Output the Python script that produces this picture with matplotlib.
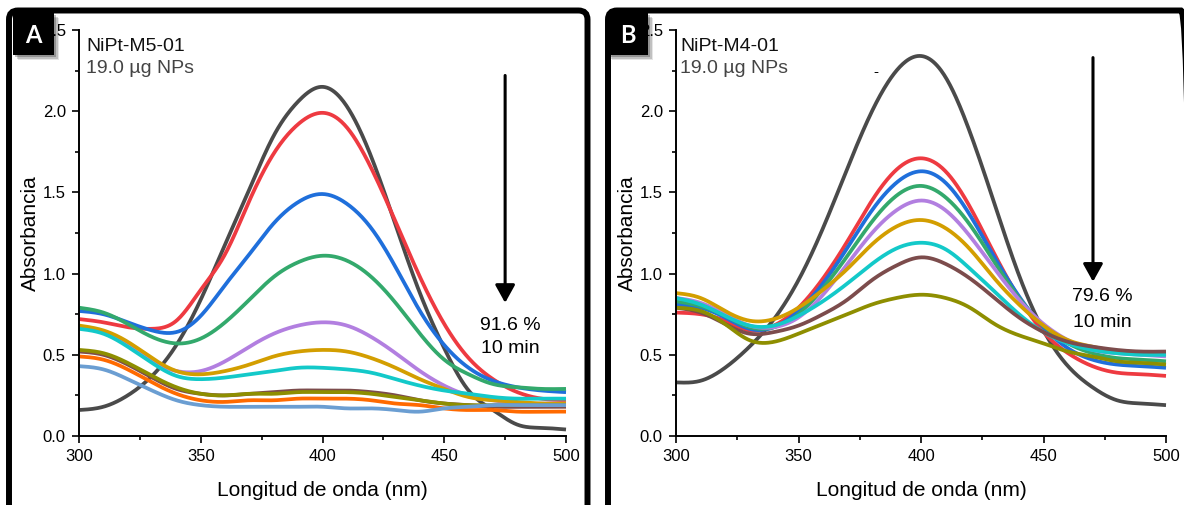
import numpy as np
import matplotlib
matplotlib.use("Agg")
import matplotlib.pyplot as plt
from matplotlib.patches import FancyBboxPatch, Rectangle
from matplotlib.transforms import IdentityTransform
from matplotlib.ticker import MultipleLocator, FormatStrFormatter

plt.rcParams['font.family'] = ['Liberation Sans', 'DejaVu Sans']

# Wavelength grid (nm) of the sampled absorbance values
wavelength = [300, 310, 320, 330, 340, 350, 360, 370, 380, 390, 400,
              410, 420, 430, 440, 450, 460, 470, 480, 490, 500]

# Panel A: NiPt-M5-01
gray_A   = [0.16, 0.18, 0.25, 0.37, 0.56, 0.84, 1.18, 1.52, 1.85, 2.06, 2.15, 2.03, 1.72, 1.30, 0.88, 0.54, 0.28, 0.16, 0.07, 0.05, 0.04]
red_A    = [0.72, 0.70, 0.67, 0.66, 0.71, 0.90, 1.12, 1.45, 1.74, 1.92, 1.99, 1.90, 1.65, 1.32, 0.98, 0.69, 0.48, 0.35, 0.27, 0.23, 0.22]
blue_A   = [0.77, 0.75, 0.70, 0.65, 0.64, 0.74, 0.93, 1.12, 1.31, 1.44, 1.49, 1.43, 1.28, 1.04, 0.77, 0.56, 0.42, 0.34, 0.30, 0.28, 0.27]
green_A  = [0.79, 0.76, 0.69, 0.61, 0.57, 0.60, 0.70, 0.84, 0.98, 1.07, 1.11, 1.08, 0.98, 0.82, 0.63, 0.47, 0.38, 0.32, 0.30, 0.29, 0.29]
purple_A = [0.67, 0.64, 0.56, 0.46, 0.40, 0.40, 0.46, 0.55, 0.63, 0.68, 0.70, 0.68, 0.61, 0.51, 0.40, 0.31, 0.25, 0.22, 0.20, 0.20, 0.20]
gold_A   = [0.68, 0.65, 0.58, 0.48, 0.40, 0.38, 0.40, 0.44, 0.49, 0.52, 0.53, 0.52, 0.48, 0.42, 0.35, 0.29, 0.24, 0.22, 0.21, 0.20, 0.20]
cyan_A   = [0.66, 0.63, 0.55, 0.45, 0.37, 0.35, 0.36, 0.38, 0.40, 0.42, 0.42, 0.41, 0.39, 0.35, 0.31, 0.28, 0.26, 0.24, 0.23, 0.23, 0.23]
brown_A  = [0.52, 0.50, 0.44, 0.36, 0.29, 0.26, 0.25, 0.26, 0.27, 0.28, 0.28, 0.28, 0.27, 0.25, 0.22, 0.20, 0.19, 0.18, 0.18, 0.18, 0.18]
olive_A  = [0.53, 0.51, 0.45, 0.37, 0.30, 0.26, 0.25, 0.26, 0.26, 0.27, 0.27, 0.27, 0.26, 0.24, 0.22, 0.20, 0.19, 0.19, 0.19, 0.19, 0.19]
orange_A = [0.49, 0.47, 0.41, 0.33, 0.26, 0.22, 0.21, 0.22, 0.22, 0.23, 0.23, 0.23, 0.22, 0.20, 0.19, 0.17, 0.16, 0.16, 0.15, 0.15, 0.15]
steel_A  = [0.43, 0.41, 0.35, 0.28, 0.22, 0.19, 0.18, 0.18, 0.18, 0.18, 0.18, 0.17, 0.17, 0.16, 0.15, 0.17, 0.18, 0.19, 0.19, 0.19, 0.19]

# Panel B: NiPt-M4-01
gray_B   = [0.33, 0.34, 0.42, 0.55, 0.72, 0.96, 1.28, 1.65, 2.00, 2.25, 2.34, 2.21, 1.87, 1.43, 0.99, 0.65, 0.43, 0.30, 0.22, 0.20, 0.19]
red_B    = [0.76, 0.75, 0.71, 0.65, 0.68, 0.79, 0.97, 1.20, 1.45, 1.64, 1.71, 1.63, 1.41, 1.12, 0.85, 0.64, 0.51, 0.43, 0.39, 0.38, 0.37]
blue_B   = [0.81, 0.79, 0.73, 0.66, 0.67, 0.77, 0.94, 1.16, 1.39, 1.56, 1.63, 1.56, 1.36, 1.10, 0.86, 0.67, 0.54, 0.47, 0.44, 0.43, 0.42]
green_B  = [0.83, 0.80, 0.74, 0.67, 0.67, 0.75, 0.91, 1.11, 1.32, 1.48, 1.54, 1.47, 1.30, 1.07, 0.85, 0.68, 0.57, 0.51, 0.48, 0.47, 0.46]
purple_B = [0.85, 0.82, 0.75, 0.68, 0.67, 0.73, 0.87, 1.06, 1.25, 1.39, 1.45, 1.39, 1.23, 1.03, 0.84, 0.69, 0.59, 0.53, 0.51, 0.50, 0.49]
gold_B   = [0.88, 0.85, 0.77, 0.71, 0.72, 0.79, 0.90, 1.03, 1.18, 1.29, 1.33, 1.28, 1.15, 0.97, 0.81, 0.68, 0.59, 0.55, 0.52, 0.51, 0.51]
cyan_B   = [0.85, 0.81, 0.74, 0.68, 0.68, 0.74, 0.83, 0.94, 1.06, 1.155, 1.19, 1.15, 1.03, 0.89, 0.75, 0.64, 0.57, 0.53, 0.51, 0.50, 0.50]
brown_B  = [0.79, 0.76, 0.69, 0.63, 0.64, 0.68, 0.75, 0.84, 0.96, 1.05, 1.10, 1.06, 0.97, 0.85, 0.73, 0.64, 0.58, 0.55, 0.53, 0.52, 0.52]
olive_B  = [0.79, 0.77, 0.69, 0.59, 0.58, 0.63, 0.69, 0.75, 0.81, 0.85, 0.87, 0.85, 0.79, 0.69, 0.62, 0.57, 0.52, 0.49, 0.46, 0.45, 0.44]

palette = {
    'gray': '#4a4a4a', 'red': '#ee3a41', 'blue': '#1f6fdb', 'green': '#33a96c',
    'purple': '#b27fe0', 'gold': '#d39e00', 'cyan': '#13c9c9', 'brown': '#7c4c4c',
    'olive': '#8e8e00', 'orange': '#ff6a00', 'steel': '#6b9ed2',
}

series_A = [('gray', gray_A), ('red', red_A), ('blue', blue_A), ('green', green_A),
            ('purple', purple_A), ('gold', gold_A), ('cyan', cyan_A), ('brown', brown_A),
            ('olive', olive_A), ('orange', orange_A), ('steel', steel_A)]
series_B = [('gray', gray_B), ('red', red_B), ('blue', blue_B), ('green', green_B),
            ('purple', purple_B), ('gold', gold_B), ('cyan', cyan_B), ('brown', brown_B),
            ('olive', olive_B)]


def natural_spline(x, y, n=500):
    """Smooth curve through the sampled points (natural cubic spline)."""
    x = np.asarray(x, float)
    y = np.asarray(y, float)
    k = len(x)
    h = np.diff(x)
    A = np.zeros((k, k))
    r = np.zeros(k)
    A[0, 0] = A[-1, -1] = 1.0
    for i in range(1, k - 1):
        A[i, i - 1] = h[i - 1]
        A[i, i] = 2 * (h[i - 1] + h[i])
        A[i, i + 1] = h[i]
        r[i] = 6 * ((y[i + 1] - y[i]) / h[i] - (y[i] - y[i - 1]) / h[i - 1])
    M = np.linalg.solve(A, r)
    xs = np.linspace(x[0], x[-1], n)
    idx = np.clip(np.searchsorted(x, xs) - 1, 0, k - 2)
    x0, x1 = x[idx], x[idx + 1]
    hh = x1 - x0
    t0, t1 = x1 - xs, xs - x0
    ys = (M[idx] * t0 ** 3 + M[idx + 1] * t1 ** 3) / (6 * hh) \
        + (y[idx] / hh - M[idx] * hh / 6) * t0 \
        + (y[idx + 1] / hh - M[idx + 1] * hh / 6) * t1
    return xs, ys


W, H = 1184, 505
fig = plt.figure(figsize=(W / 100, H / 100), dpi=100)
fig.patch.set_facecolor('white')

axA = fig.add_axes([79 / W, 1 - 436 / H, 487 / W, 406 / H])
axB = fig.add_axes([676 / W, 1 - 436 / H, 490 / W, 406 / H])


def style_axis(ax):
    ax.set_xlim(300, 500)
    ax.set_ylim(0, 2.5)
    for s in ('top', 'right'):
        ax.spines[s].set_visible(False)
    for s in ('left', 'bottom'):
        ax.spines[s].set_linewidth(1.4)
    ax.xaxis.set_major_locator(MultipleLocator(50))
    ax.xaxis.set_minor_locator(MultipleLocator(25))
    ax.yaxis.set_major_locator(MultipleLocator(0.5))
    ax.yaxis.set_minor_locator(MultipleLocator(0.25))
    ax.yaxis.set_major_formatter(FormatStrFormatter('%.1f'))
    ax.tick_params(which='major', direction='out', length=5, width=1.2, labelsize=12, pad=4.5)
    ax.tick_params(which='minor', direction='out', length=3, width=1.2)
    ax.set_xlabel('Longitud de onda (nm)', fontsize=15, labelpad=12)
    ax.set_ylabel('Absorbancia', fontsize=15, labelpad=2)
    ax.patch.set_alpha(0)


for ax, series in ((axA, series_A), (axB, series_B)):
    style_axis(ax)
    for name, vals in series:
        xs, ys = natural_spline(wavelength, vals)
        ax.plot(xs, ys, color=palette[name], lw=2.7, solid_capstyle='butt', clip_on=False)

# Sample names and loading
axA.text(302.9, 2.40, 'NiPt-M5-01', fontsize=14, color='#111111', va='center', ha='left')
axA.text(302.9, 2.26, '19.0 µg NPs', fontsize=14, color='#444444', va='center', ha='left')
axB.text(301.6, 2.40, 'NiPt-M4-01', fontsize=14, color='#111111', va='center', ha='left')
axB.text(301.6, 2.26, '19.0 µg NPs', fontsize=14, color='#444444', va='center', ha='left')
axB.text(381.6, 2.24, '-', fontsize=11, color='black', va='center', ha='center')

# Time-course arrows with degradation percentage
arrow_style = dict(arrowstyle='-|>,head_length=0.45,head_width=0.25', lw=2.2,
                   color='black', shrinkA=0, shrinkB=0, mutation_scale=24)
axA.annotate('', xy=(475, 0.82), xytext=(475, 2.22), arrowprops=arrow_style)
axA.text(477, 0.68, '91.6 %', fontsize=14, ha='center', va='center')
axA.text(477, 0.54, '10 min', fontsize=14, ha='center', va='center')
axB.annotate('', xy=(470.2, 0.95), xytext=(470.2, 2.33), arrowprops=arrow_style)
axB.text(474, 0.86, '79.6 %', fontsize=14, ha='center', va='center')
axB.text(474, 0.70, '10 min', fontsize=14, ha='center', va='center')

# Panel frames with rounded corners (pixel coordinates); bottom and far right run off the canvas
ident = IdentityTransform()
for x_left, x_right in ((9, 587.5), (608, 1190)):
    frame = FancyBboxPatch((x_left, H - 530), x_right - x_left, 530 - 10.5,
                           boxstyle='round,pad=0,rounding_size=9',
                           transform=ident, fill=False, edgecolor='black',
                           linewidth=4.3, zorder=-1)
    fig.patches.append(frame)

# Panel letters in black boxes with a soft shadow
for x0, letter in ((13, 'A'), (607, 'B')):
    for k, a in enumerate((0.10, 0.16, 0.24)):
        off = 5 - k * 1.5
        fig.patches.append(Rectangle((x0 + off, H - 55 - off), 41, 42, transform=ident,
                                     facecolor='#000000', alpha=a, edgecolor='none', zorder=6))
    fig.patches.append(Rectangle((x0, H - 55), 41, 42, transform=ident,
                                 facecolor='black', edgecolor='none', zorder=7))
    fig.text((x0 + 20.5) / W, 1 - 35 / H, letter, color='white', fontsize=17,
             fontweight='bold', ha='center', va='center', zorder=8,
             family=['Lato', 'DejaVu Sans'])

fig.savefig('out.png', dpi=100)
